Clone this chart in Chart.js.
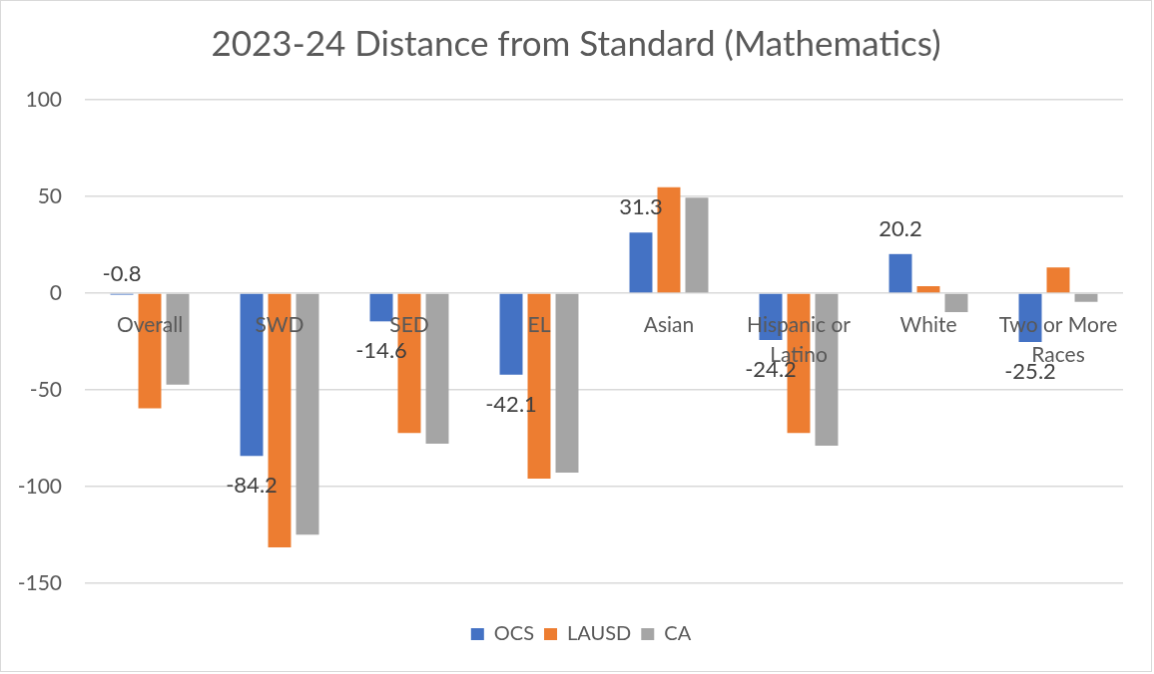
<!DOCTYPE html>
<html>
<head>
<meta charset="utf-8">
<script src="https://cdn.jsdelivr.net/npm/chart.js@4.4.1/dist/chart.umd.min.js"></script>
<style>
  body { margin: 0; background: #fff; }
  #chart { display: block; border: 1px solid #d9d9d9; }
</style>
</head>
<body>
<canvas id="chart" width="1152" height="672"></canvas>
<script>
// categories and series
const categories = ['Overall', 'SWD', 'SED', 'EL', 'Asian', ['Hispanic or', 'Latino'], 'White', ['Two or More', 'Races']];
const ocsValues = [-0.8, -84.2, -14.6, -42.1, 31.3, -24.2, 20.2, -25.2];
const lausdValues = [-59.6, -131.5, -72.3, -95.9, 54.8, -72.3, 3.6, 13.3];
const caValues = [-47.3, -124.9, -77.8, -92.8, 49.3, -78.9, -9.8, -4.5];
const yTicks = [100, 50, 0, -50, -100, -150];

const textColor = '#595959';
const fontFamily = 'Lato, "Open Sans", sans-serif';

// value labels for the first series, Excel "outside end" style
const valueLabels = {
    id: 'valueLabels',
    afterLayout(chart) {
        // Excel centres title and legend on the whole chart, not the plot area
        chart.titleBlock.left += 14;
        chart.titleBlock.right += 14;
        chart.legend.left += 19;
        chart.legend.right += 19;
    },
    afterDraw(chart) {
        const ctx = chart.ctx;
        const meta = chart.getDatasetMeta(0);
        ctx.save();
        ctx.font = '22px ' + fontFamily;
        ctx.fillStyle = '#404040';
        ctx.textAlign = 'center';
        ctx.textBaseline = 'middle';
        meta.data.forEach(function (bar, i) {
            const v = ocsValues[i];
            let y;
            if (v >= 0) y = bar.y - 25;
            else if (v > -5) y = bar.base - 20;
            else y = bar.y + 30;
            ctx.fillText(v.toFixed(1), bar.x, y);
        });
        ctx.restore();
    }
};

new Chart(document.getElementById('chart'), {
    type: 'bar',
    data: {
        labels: categories,
        datasets: [
            { label: 'OCS', data: ocsValues, backgroundColor: '#4472C4' },
            { label: 'LAUSD', data: lausdValues, backgroundColor: '#ED7D31' },
            { label: 'CA', data: caValues, backgroundColor: '#A5A5A5' }
        ]
    },
    options: {
        responsive: false,
        animation: false,
        layout: { padding: { left: 0, right: 28, top: 0, bottom: 17 } },
        datasets: {
            bar: { categoryPercentage: 0.646, barPercentage: 0.82 }
        },
        plugins: {
            title: {
                display: true,
                text: '2023-24 Distance from Standard (Mathematics)',
                color: textColor,
                font: { family: fontFamily, size: 35, weight: 'normal' },
                padding: { top: 23, bottom: 34 }
            },
            legend: {
                position: 'bottom',
                title: { display: true, text: '', font: { size: 10 }, padding: { top: 19, bottom: 0 } },
                labels: {
                    color: textColor,
                    font: { family: fontFamily, size: 20 },
                    boxWidth: 13,
                    boxHeight: 12,
                    padding: 10
                }
            },
            tooltip: { enabled: false }
        },
        scales: {
            x: {
                position: { y: 0 },
                grid: { display: false, drawTicks: false },
                border: { display: false },
                ticks: {
                    z: 1,
                    color: textColor,
                    font: { family: fontFamily, size: 21, lineHeight: 1.43 },
                    padding: 17,
                    maxRotation: 0,
                    autoSkip: false
                }
            },
            y: {
                min: -150,
                max: 100,
                afterBuildTicks: function (scale) {
                    scale.ticks = yTicks.map(v => ({ value: v }));
                },
                afterFit: function (scale) { scale.width = 84; },
                grid: { color: '#d9d9d9', lineWidth: 1.5, drawTicks: false },
                border: { display: false },
                ticks: {
                    color: textColor,
                    font: { family: fontFamily, size: 21 },
                    padding: 23
                }
            }
        }
    },
    plugins: [valueLabels]
});
</script>
</body>
</html>
